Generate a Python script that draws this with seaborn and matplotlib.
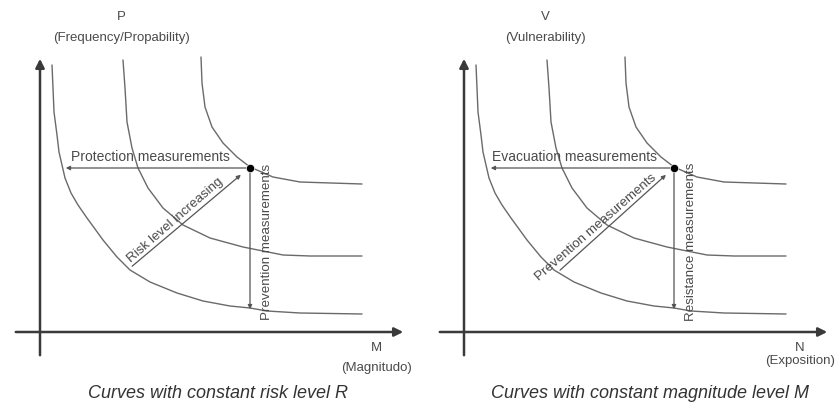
import matplotlib
matplotlib.use("Agg")
import matplotlib.pyplot as plt
import seaborn as sns

# curve points (origin = axes crossing, same shape in both panels)
c1_x = [12, 13, 14, 17, 19, 22, 25, 31, 38, 47, 63, 77, 90, 110, 137, 163, 190, 210, 227, 260, 322]
c1_y = [267, 244, 220, 197, 180, 167, 154, 139, 127, 114, 92, 75, 62, 50, 39, 31, 26, 24, 21, 19, 18]
c2_x = [83, 85, 87, 92, 98, 108, 123, 143, 170, 203, 243, 270, 322]
c2_y = [272, 244, 210, 184, 164, 144, 124, 107, 94, 85, 77, 76, 76]
c3_x = [161, 162, 165, 172, 183, 197, 210, 233, 260, 322]
c3_y = [275, 249, 225, 205, 189, 175, 165, 155, 150, 148]

# the point and the arrows leaving it
dot_x, dot_y = 210, 164
horiz_end = [23, 24]          # left / right panel
vert_end = 20
diag_start = [(90, 64), (94, 60)]
diag_end = [(203, 159), (204, 159)]

y_labels = [("P", "(Frequency/Propability)"), ("V", "(Vulnerability)")]
x_labels = [("M", "(Magnitudo)"), ("N", "(Exposition)")]
horiz_text = ["Protection measurements", "Evacuation measurements"]
diag_text = ["Risk level increasing", "Prevention measurements"]
vert_text = ["Prevention measurements", "Resistance measurements"]
titles = ["Curves with constant risk level R", "Curves with constant magnitude level M"]

sns.set_theme(style="white")
plt.rcParams["font.family"] = ["Liberation Sans", "DejaVu Sans"]

fig = plt.figure(figsize=(8.35, 4.08), dpi=100)
ax_l = fig.add_axes([0, 0, 0.5, 1])
ax_r = fig.add_axes([0.5, 0, 0.5, 1])
lims = [(-40, 377.5), (-46.5, 371)]

curve_col = "#6a6a6a"
txt_col = "#4a4a4a"

for i, ax in enumerate([ax_l, ax_r]):
    ax.set_xlim(*lims[i])
    ax.set_ylim(-76, 332)
    ax.axis("off")

    # axes with arrows
    ax.annotate("", xy=(0, 276), xytext=(0, -26),
                arrowprops=dict(arrowstyle="-|>", color="#3a3a3a", lw=1.8, mutation_scale=13))
    ax.annotate("", xy=(366, 0), xytext=(-27, 0),
                arrowprops=dict(arrowstyle="-|>", color="#3a3a3a", lw=1.8, mutation_scale=13))

    for cx, cy in [(c1_x, c1_y), (c2_x, c2_y), (c3_x, c3_y)]:
        sns.lineplot(x=cx, y=cy, sort=False, estimator=None, errorbar=None,
                     color=curve_col, lw=1.0, ax=ax)

    # measurement arrows
    ax.annotate("", xy=(horiz_end[i], dot_y), xytext=(dot_x, dot_y),
                arrowprops=dict(arrowstyle="-|>", color="#555555", lw=0.9, mutation_scale=6))
    ax.annotate("", xy=(dot_x, vert_end), xytext=(dot_x, dot_y),
                arrowprops=dict(arrowstyle="-|>", color="#555555", lw=0.9, mutation_scale=6))
    ax.annotate("", xy=diag_end[i], xytext=diag_start[i],
                arrowprops=dict(arrowstyle="-|>", color="#555555", lw=0.9, mutation_scale=6))
    sns.scatterplot(x=[dot_x], y=[dot_y], color="black", s=35, ax=ax, zorder=5)

    # texts
    ax.text(81, 315, y_labels[i][0], ha="center", va="center", fontsize=9.5, color=txt_col)
    ax.text(81, 294, y_labels[i][1], ha="center", va="center", fontsize=9.5, color=txt_col)
    ax.text(336, -16, x_labels[i][0], ha="center", va="center", fontsize=9.5, color=txt_col)
    ax.text(336, -36 if i == 0 else -29, x_labels[i][1], ha="center", va="center",
            fontsize=9.5, color=txt_col)
    ax.text(110, 175, horiz_text[i], ha="center", va="center", fontsize=10, color=txt_col)
    dpos = [(135, 112), (132, 104)][i]
    ax.text(dpos[0], dpos[1], diag_text[i], ha="center", va="center",
            fontsize=9.6, color=txt_col, rotation=41, rotation_mode="anchor")
    ax.text(227, 90, vert_text[i], ha="center", va="center", fontsize=9.6,
            color=txt_col, rotation=90)
    ax.text(178 if i == 0 else 186, -61, titles[i], ha="center", va="center",
            fontsize=13, style="italic", color="#333333")

fig.savefig("out.png", dpi=100)
